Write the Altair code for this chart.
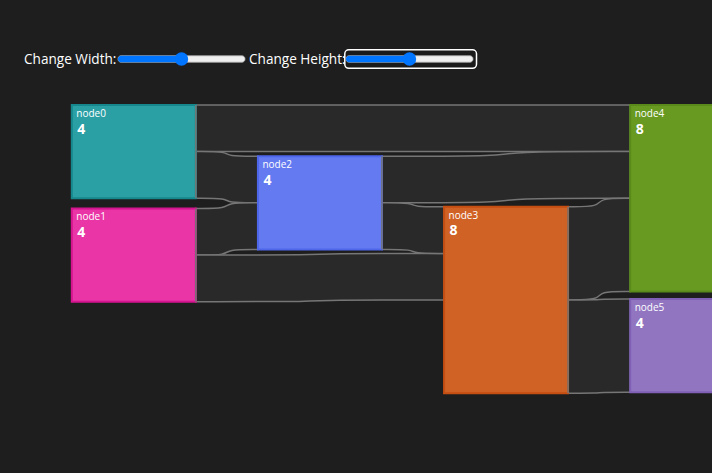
import altair as alt
import pandas as pd

# ---------------- data ----------------
node_names = ["node0", "node1", "node2", "node3", "node4", "node5"]
node_columns = [0, 0, 1, 2, 3, 3]
# top of every node in value units, as laid out in the picture
node_tops = [0.0, 4.44, 2.2, 4.37, 0.0, 8.33]
node_fills = ["#2aa0a5", "#e935a6", "#637af0", "#d06226", "#689a22", "#9175c0"]
node_strokes = ["#16888d", "#d5158f", "#4e66ea", "#c54e12", "#5a8b1a", "#7f60b6"]

link_sources = ["node0", "node0", "node1", "node1", "node2", "node2", "node3", "node3"]
link_targets = ["node4", "node2", "node2", "node3", "node4", "node3", "node4", "node5"]
link_values = [2, 2, 2, 2, 2, 2, 4, 4]

slider_labels = ["Change Width:", "Change Height:"]
slider_values = [0.5, 0.5]

# ---------------- layout ----------------
W, H = 712, 473
PX_LEFT, PX_COL, PX_NODE = 71.8, 186.13, 124.0
PX_TOP, PX_UNIT = 105.0, 23.3
node_w = PX_NODE / PX_COL

col = dict(zip(node_names, node_columns))
top = dict(zip(node_names, node_tops))
vin = {n: 0 for n in node_names}
vout = {n: 0 for n in node_names}
for s, t, v in zip(link_sources, link_targets, link_values):
    vout[s] += v
    vin[t] += v
val = {n: max(vin[n], vout[n]) for n in node_names}

idx = list(range(len(link_values)))
sy, ty = {}, {}
for n in node_names:
    y = top[n]
    for i in sorted([i for i in idx if link_sources[i] == n], key=lambda i: top[link_targets[i]]):
        sy[i] = (y, y + link_values[i])
        y += link_values[i]
    y = top[n]
    for i in sorted([i for i in idx if link_targets[i] == n], key=lambda i: top[link_sources[i]]):
        ty[i] = (y, y + link_values[i])
        y += link_values[i]

nodes = pd.DataFrame({
    "name": node_names,
    "x0": [col[n] for n in node_names],
    "x1": [col[n] + node_w for n in node_names],
    "y0": [top[n] for n in node_names],
    "y1": [top[n] + val[n] for n in node_names],
    "value": [val[n] for n in node_names],
})

rows = []
ends = []
for i in idx:
    xs = col[link_sources[i]] + node_w
    xt = col[link_targets[i]]
    xm = (xs + xt) / 2
    pts = [(xs, sy[i]), (xm, sy[i]), (xm, ty[i]), (xt, ty[i])]
    for k, (x, (a, b)) in enumerate(pts):
        rows.append({"link": i, "k": k, "x": x, "ya": a, "yb": b})
    ends.append({"link": i, "x": xs, "ya": sy[i][0], "yb": sy[i][1]})
links = pd.DataFrame(rows)
link_ends = pd.DataFrame(ends)

xs_scale = alt.Scale(domain=[-PX_LEFT / PX_COL, (W - PX_LEFT) / PX_COL], nice=False, zero=False)
ys_scale = alt.Scale(domain=[-PX_TOP / PX_UNIT, (H - PX_TOP) / PX_UNIT], nice=False, zero=False, reverse=True)

FONT = "Open Sans"
LINK_STROKE = "#767676"

link_layer = alt.Chart(links).mark_area(
    interpolate="basis", fill="#292929", stroke=LINK_STROKE, strokeWidth=1.5
).encode(
    x=alt.X("x:Q", scale=xs_scale, axis=None),
    y=alt.Y("ya:Q", scale=ys_scale, axis=None, stack=None),
    y2="yb:Q",
    detail="link:N",
)

node_layer = alt.Chart(nodes).mark_rect(strokeWidth=2, clip=True).encode(
    x=alt.X("x0:Q", scale=xs_scale, axis=None),
    x2="x1:Q",
    y=alt.Y("y0:Q", scale=ys_scale, axis=None),
    y2="y1:Q",
    fill=alt.Fill("name:N", scale=alt.Scale(domain=node_names, range=node_fills), legend=None),
    stroke=alt.Stroke("name:N", scale=alt.Scale(domain=node_names, range=node_strokes), legend=None),
)

end_layer = alt.Chart(link_ends).mark_rule(color=LINK_STROKE, strokeWidth=1.5).encode(
    x=alt.X("x:Q", scale=xs_scale, axis=None),
    y=alt.Y("ya:Q", scale=ys_scale, axis=None),
    y2="yb:Q",
)

name_layer = alt.Chart(nodes).mark_text(
    align="left", baseline="alphabetic", dx=4.5, dy=12, fontSize=10, font=FONT, color="white"
).encode(
    x=alt.X("x0:Q", scale=xs_scale, axis=None),
    y=alt.Y("y0:Q", scale=ys_scale, axis=None),
    text="name:N",
)

value_layer = alt.Chart(nodes).mark_text(
    align="left", baseline="alphabetic", dx=5.5, dy=28.5, fontSize=14, fontWeight="bold",
    font=FONT, color="white"
).encode(
    x=alt.X("x0:Q", scale=xs_scale, axis=None),
    y=alt.Y("y0:Q", scale=ys_scale, axis=None),
    text="value:Q",
)

# ---------------- slider controls ----------------
def slider(label, value, label_x, t0, t1, focused):
    df = pd.DataFrame({"label": [label], "value": [value]})
    base = alt.Chart(df)
    thumb_x = t0 + 7.5 + value * (t1 - t0 - 15)
    parts = []
    if focused:
        parts.append(base.mark_rect(cornerRadius=4, fill="#1a1a1a", stroke="white", strokeWidth=1.5).encode(
            x=alt.value(t0 - 1.2), x2=alt.value(t1 + 3.5), y=alt.value(49.8), y2=alt.value(68.3)))
    parts += [
        base.mark_text(align="left", baseline="alphabetic", fontSize=13.6, font=FONT, color="white").encode(
            x=alt.value(label_x), y=alt.value(64), text="label:N"),
        base.mark_rect(cornerRadius=3, fill="#efefef", stroke="#b0b0b0", strokeWidth=0.8).encode(
            x=alt.value(t0), x2=alt.value(t1), y=alt.value(55.8), y2=alt.value(62.2)),
        base.mark_rect(cornerRadius=3, fill="#0075ff").encode(
            x=alt.value(t0), x2=alt.value(thumb_x), y=alt.value(55.8), y2=alt.value(62.2)),
        base.mark_circle(size=180, color="#0075ff", opacity=1).encode(
            x=alt.value(thumb_x), y=alt.value(59)),
    ]
    return parts

ui = slider(slider_labels[0], slider_values[0], 24, 118, 245, False) + \
     slider(slider_labels[1], slider_values[1], 249, 346, 473, True)

chart = alt.layer(
    link_layer, node_layer, end_layer, name_layer, value_layer, *ui
).properties(
    width=W, height=H, padding=0, autosize=alt.AutoSizeParams(type="none"), background="#1e1e1e"
).configure_view(stroke=None)

chart.save("out.html", embed_options={"renderer": "svg", "actions": False})
